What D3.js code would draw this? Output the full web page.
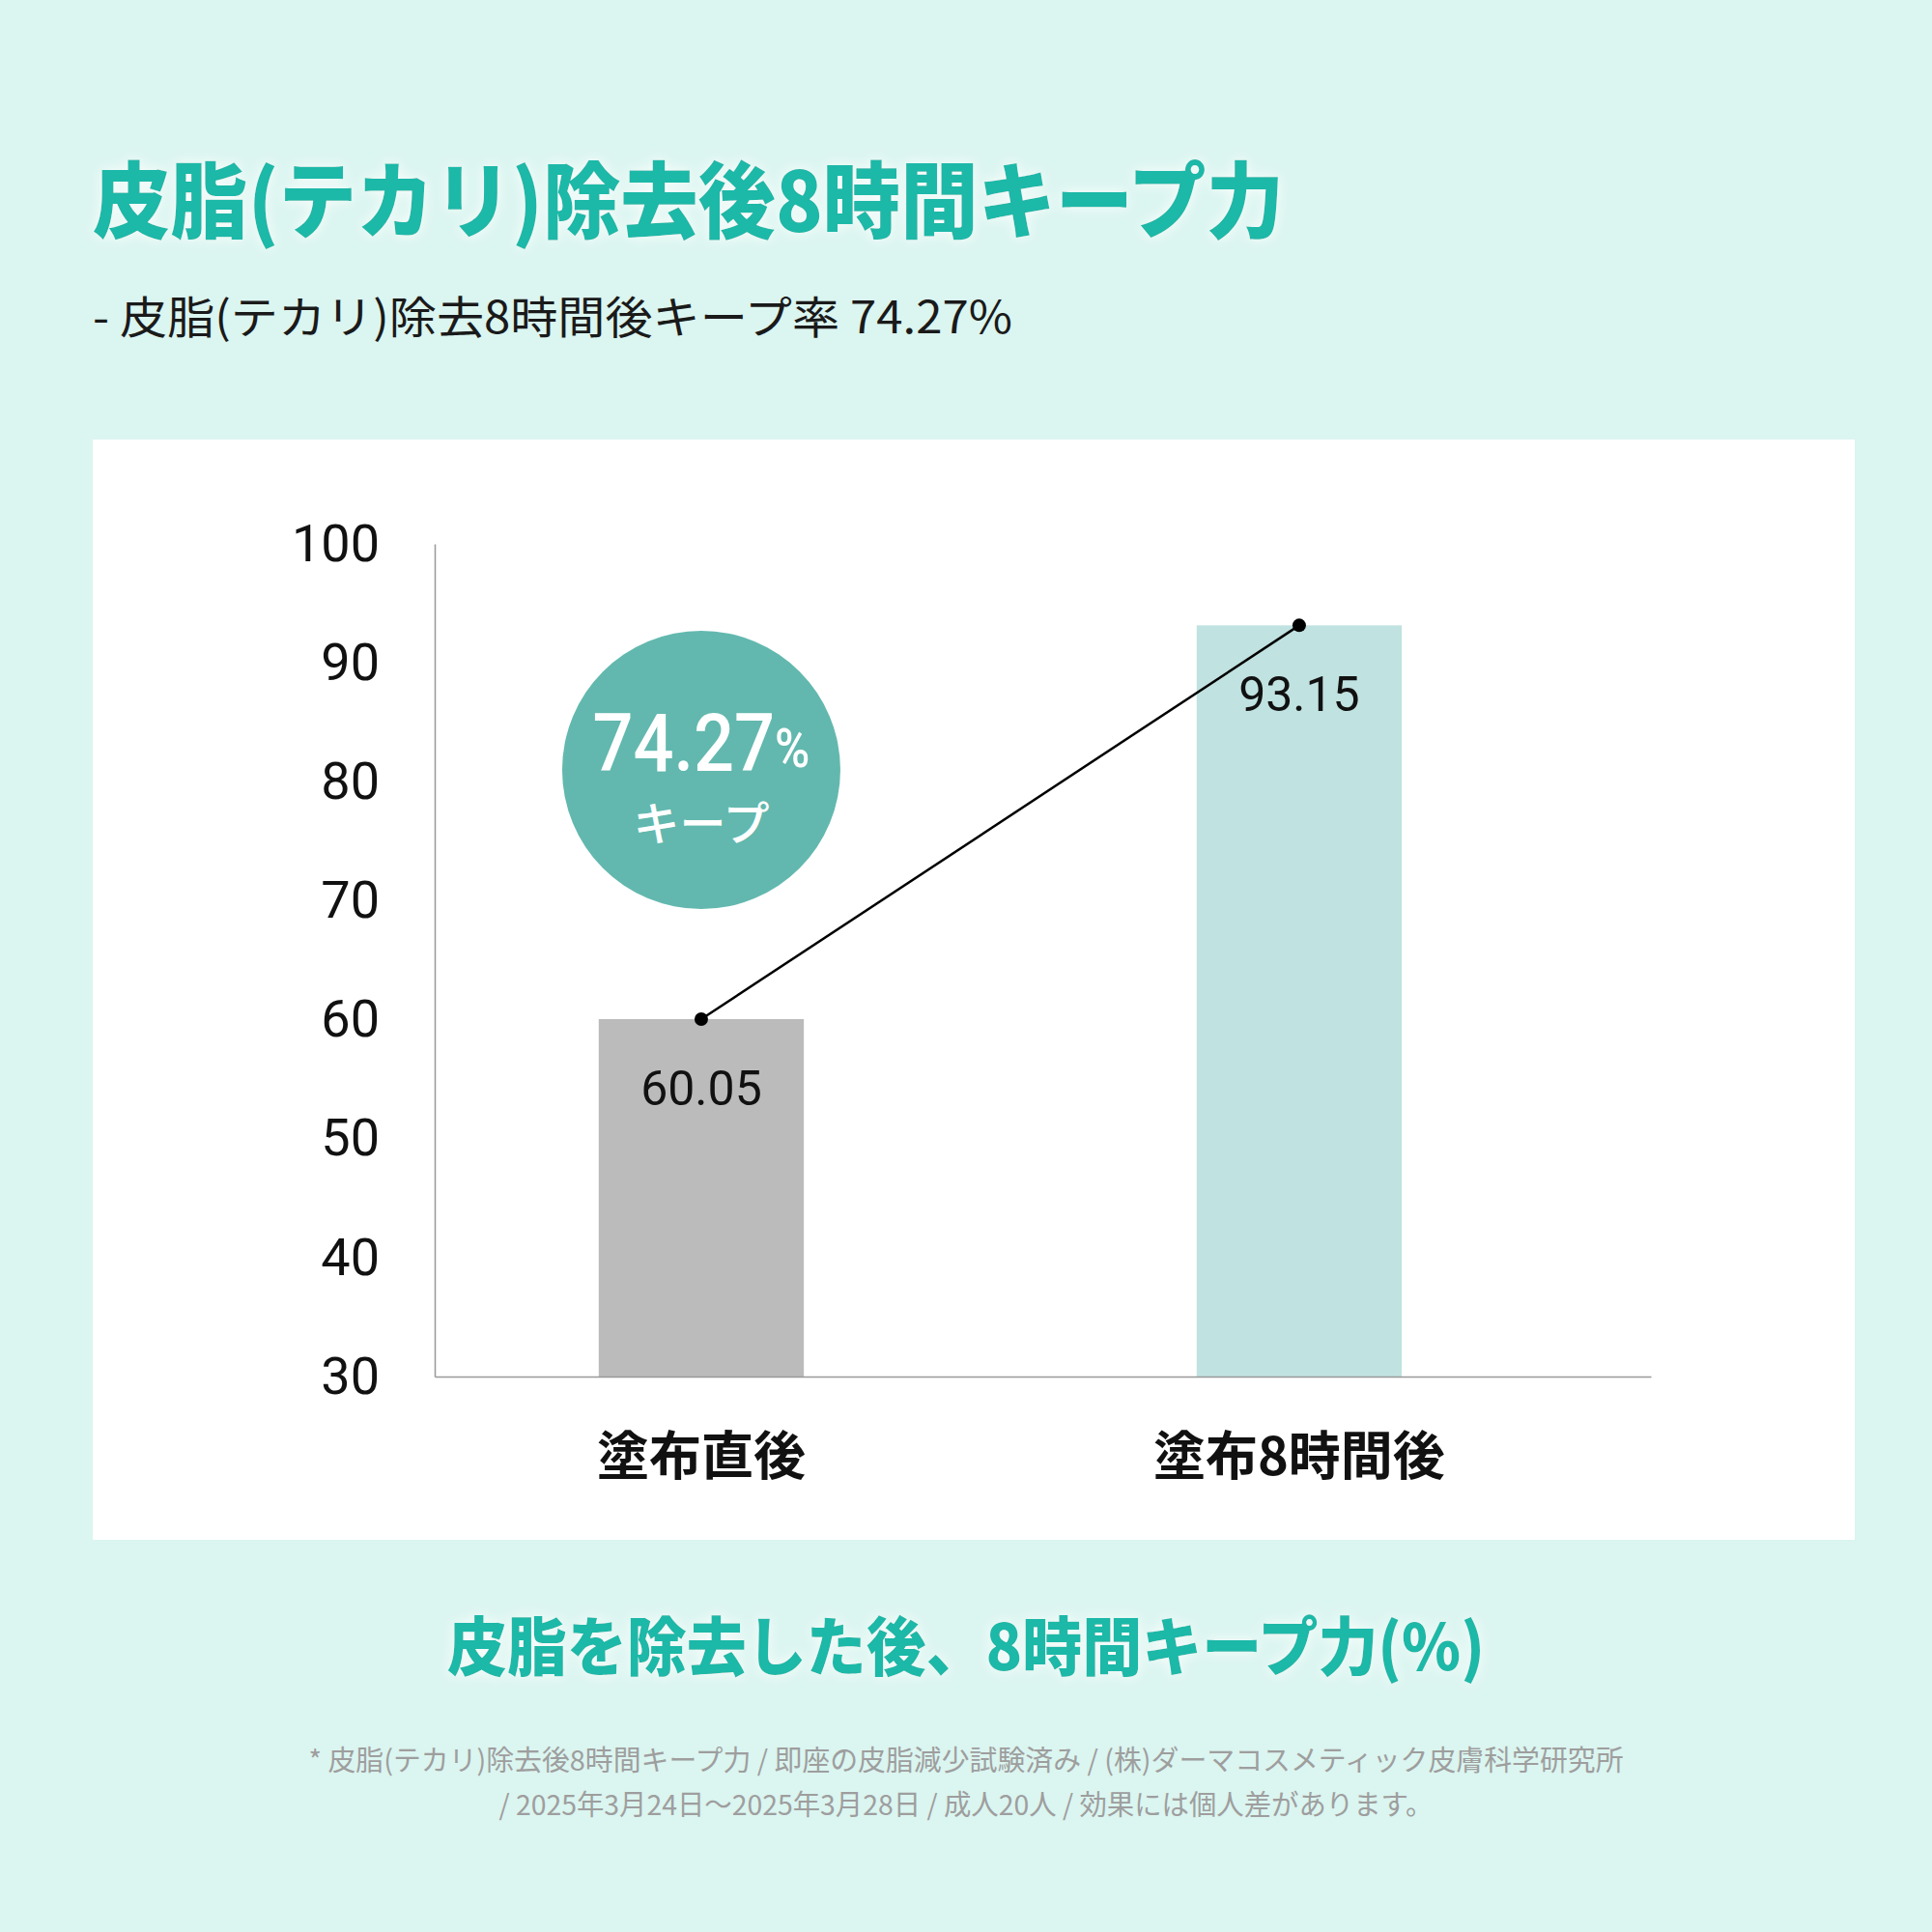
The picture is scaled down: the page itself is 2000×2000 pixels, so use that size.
<!DOCTYPE html>
<html>
<head>
<meta charset="utf-8">
<script src="https://cdn.jsdelivr.net/npm/d3@7"></script>
<style>
  html, body { margin: 0; padding: 0; background: #dbf5f0; }
  svg { display: block; }
</style>
</head>
<body>
<div id="chart"></div>
<script>

// data
const categories = ["塗布直後", "塗布8時間後"];
const values = [60.05, 93.15];
const yTicks = [30, 40, 50, 60, 70, 80, 90, 100];
const keepRate = 74.27;

const titleText = "皮脂(テカリ)除去後8時間キープ力";
const subText = "- 皮脂(テカリ)除去8時間後キープ率 74.27%";
const captionText = "皮脂を除去した後、8時間キープ力(%)";
const noteLines = [
  "* 皮脂(テカリ)除去後8時間キープ力 / 即座の皮脂減少試験済み / (株)ダーマコスメティック皮膚科学研究所",
  "/ 2025年3月24日〜2025年3月28日 / 成人20人 / 効果には個人差があります。"
];

const teal = "#1ab8a8";
const barColors = ["#bbbbbb", "#c0e2e0"];
const jp = "'Noto Sans CJK JP', 'Noto Sans', sans-serif";
const num = "Roboto, 'Liberation Sans', sans-serif";

const W = 2000, H = 2000;

const svg = d3.select("#chart")
  .append("svg")
  .attr("width", W)
  .attr("height", H);

// white glow behind the teal headings
const defs = svg.append("defs");
const glow = defs.append("filter").attr("id", "glow")
  .attr("x", "-10%").attr("y", "-40%").attr("width", "120%").attr("height", "180%");
glow.append("feGaussianBlur").attr("in", "SourceAlpha").attr("stdDeviation", 7).attr("result", "blur");
glow.append("feFlood").attr("flood-color", "#ffffff").attr("flood-opacity", 0.9);
glow.append("feComposite").attr("in2", "blur").attr("operator", "in").attr("result", "white");
const merge = glow.append("feMerge");
merge.append("feMergeNode").attr("in", "white");
merge.append("feMergeNode").attr("in", "SourceGraphic");

svg.append("rect")
  .attr("width", W).attr("height", H)
  .attr("fill", "#dbf5f0");

// title + subtitle
svg.append("text")
  .attr("x", 96).attr("y", 202)
  .attr("dominant-baseline", "central")
  .attr("font-family", jp)
  .attr("font-weight", 900)
  .attr("font-size", 86)
  .attr("fill", teal)
  .attr("textLength", 1233)
  .attr("lengthAdjust", "spacingAndGlyphs")
  .attr("filter", "url(#glow)")
  .text(titleText);

svg.append("text")
  .attr("x", 96).attr("y", 325)
  .attr("dominant-baseline", "central")
  .attr("font-family", jp)
  .attr("font-weight", 400)
  .attr("font-size", 46)
  .attr("fill", "#1a1a1a")
  .attr("textLength", 952)
  .attr("lengthAdjust", "spacingAndGlyphs")
  .text(subText);

// white panel
svg.append("rect")
  .attr("x", 96).attr("y", 455)
  .attr("width", 1824).attr("height", 1139)
  .attr("fill", "#ffffff");

// scales
const y = d3.scaleLinear().domain([30, 100]).range([1425, 563]);
const x = d3.scaleBand()
  .domain(categories)
  .range([450, 1709])
  .paddingInner(0.657)
  .paddingOuter(0.3455)
  .align(0.397);

const yAxis = d3.axisLeft(y).tickValues(yTicks).tickSize(0).tickPadding(57).tickSizeOuter(0);
const xAxis = d3.axisBottom(x).tickSize(0).tickSizeOuter(0);

const gy = svg.append("g").attr("transform", "translate(450,0)").call(yAxis);
gy.select(".domain").attr("stroke", "#999").attr("stroke-width", 1.5);
gy.selectAll("text")
  .attr("font-family", num)
  .attr("font-size", 54)
  .attr("fill", "#111");

// bars
svg.selectAll("rect.bar")
  .data(values)
  .enter()
  .append("rect")
  .attr("class", "bar")
  .attr("x", (d, i) => x(categories[i]))
  .attr("y", d => y(d))
  .attr("width", x.bandwidth())
  .attr("height", d => y(30) - y(d))
  .attr("fill", (d, i) => barColors[i]);

const gx = svg.append("g").attr("transform", `translate(0,${y(30)})`).call(xAxis);
gx.select(".domain").attr("stroke", "#999").attr("stroke-width", 1.5);
gx.selectAll("text")
  .attr("y", 78)
  .attr("dy", null)
  .attr("dominant-baseline", "central")
  .attr("font-family", jp)
  .attr("font-weight", 700)
  .attr("font-size", 54)
  .attr("fill", "#111");

// value labels
const cx = (d, i) => x(categories[i]) + x.bandwidth() / 2;

svg.selectAll("text.val")
  .data(values)
  .enter()
  .append("text")
  .attr("class", "val")
  .attr("x", cx)
  .attr("y", d => y(d) + 72)
  .attr("text-anchor", "middle")
  .attr("dominant-baseline", "central")
  .attr("font-family", num)
  .attr("font-size", 50)
  .attr("fill", "#111")
  .text(d => d.toFixed(2));

// connecting line + dots
const line = d3.line().x(cx).y(d => y(d));

svg.append("path")
  .datum(values)
  .attr("d", line)
  .attr("fill", "none")
  .attr("stroke", "#000")
  .attr("stroke-width", 2.5);

svg.selectAll("circle.dot")
  .data(values)
  .enter()
  .append("circle")
  .attr("class", "dot")
  .attr("cx", cx)
  .attr("cy", d => y(d))
  .attr("r", 7)
  .attr("fill", "#000");

// keep-rate badge
const bx = x(categories[0]) + x.bandwidth() / 2;
const badge = svg.append("g").attr("transform", `translate(${bx},797)`);
badge.append("circle").attr("r", 144).attr("fill", "#62b8ae");

const rateText = badge.append("g").attr("transform", "translate(0,-28) scale(0.88,1)");
const t = rateText.append("text")
  .attr("text-anchor", "middle")
  .attr("dominant-baseline", "central")
  .attr("font-family", num)
  .attr("font-weight", 500)
  .attr("fill", "#fff");
t.append("tspan").attr("font-size", 84).text(keepRate.toFixed(2));
t.append("tspan").attr("font-size", 56).attr("dy", 6).text("%");

badge.append("text")
  .attr("y", 52)
  .attr("text-anchor", "middle")
  .attr("dominant-baseline", "central")
  .attr("font-family", jp)
  .attr("font-weight", 500)
  .attr("font-size", 48)
  .attr("fill", "#fff")
  .text("キープ");

// bottom caption
svg.append("text")
  .attr("x", 1000).attr("y", 1700)
  .attr("text-anchor", "middle")
  .attr("dominant-baseline", "central")
  .attr("font-family", jp)
  .attr("font-weight", 900)
  .attr("font-size", 66)
  .attr("fill", teal)
  .attr("textLength", 1074)
  .attr("lengthAdjust", "spacingAndGlyphs")
  .attr("filter", "url(#glow)")
  .text(captionText);

// footnote
const noteWidths = [1361, 967];
svg.selectAll("text.note")
  .data(noteLines)
  .enter()
  .append("text")
  .attr("class", "note")
  .attr("x", 1000)
  .attr("y", (d, i) => 1820 + i * 46)
  .attr("text-anchor", "middle")
  .attr("dominant-baseline", "central")
  .attr("font-family", jp)
  .attr("font-size", 29)
  .attr("fill", "#9e9e9e")
  .attr("textLength", (d, i) => noteWidths[i])
  .attr("lengthAdjust", "spacingAndGlyphs")
  .text(d => d);

</script>
</body>
</html>
